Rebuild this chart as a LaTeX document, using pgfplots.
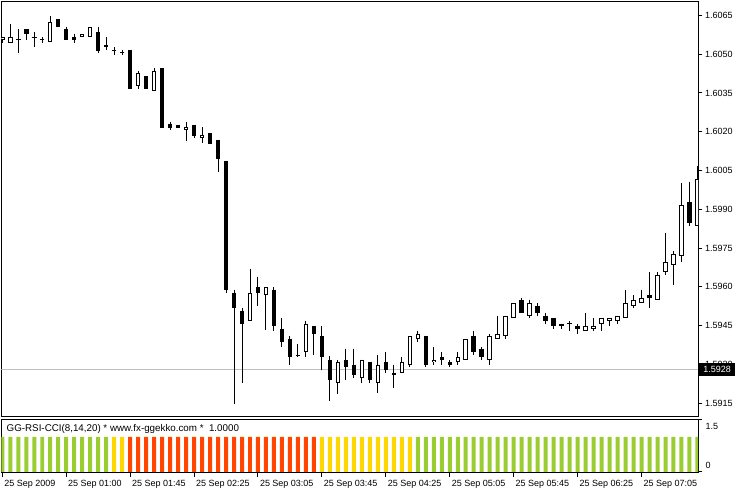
\documentclass[border=0pt]{standalone}
\usepackage{pgfplots}
\pgfplotsset{compat=1.18}
\usepackage{pgfplotstable}
\usepackage{fontspec}
\setmainfont{Liberation Sans}
\definecolor{ygreen}{RGB}{154,205,50}
\definecolor{mtgold}{RGB}{255,215,0}
\definecolor{ored}{RGB}{255,69,0}
\definecolor{lgray}{RGB}{192,192,192}

\pgfplotstableread{
i O H L C
0 1.60555 1.60568 1.60545 1.60566
1 1.60545 1.60617 1.60545 1.60566
6 1.60546 1.60648 1.60546 1.60624
10 1.60566 1.60578 1.60566 1.60578
11 1.60566 1.60604 1.60566 1.60604
17 1.60375 1.60435 1.60365 1.60427
19 1.60358 1.60446 1.60358 1.60435
23 1.60206 1.60237 1.60166 1.60219
25 1.60175 1.60218 1.60156 1.60188
31 1.59466 1.59670 1.59466 1.59576
33 1.59567 1.59599 1.59434 1.59599
38 1.59348 1.59469 1.59327 1.59457
42 1.59228 1.59318 1.59187 1.59309
45 1.59247 1.59318 1.59228 1.59318
47 1.59228 1.59336 1.59189 1.59299
50 1.59267 1.59329 1.59267 1.59309
51 1.59296 1.59408 1.59290 1.59408
52 1.59398 1.59430 1.59385 1.59418
54 1.59309 1.59367 1.59296 1.59318
57 1.59309 1.59348 1.59296 1.59329
58 1.59318 1.59398 1.59318 1.59398
61 1.59318 1.59418 1.59296 1.59411
62 1.59398 1.59488 1.59398 1.59418
63 1.59408 1.59488 1.59398 1.59488
64 1.59480 1.59537 1.59480 1.59537
66 1.59488 1.59550 1.59480 1.59537
73 1.59428 1.59499 1.59428 1.59450
74 1.59437 1.59480 1.59428 1.59450
75 1.59457 1.59480 1.59428 1.59480
76 1.59466 1.59480 1.59450 1.59480
77 1.59469 1.59488 1.59457 1.59488
78 1.59480 1.59589 1.59480 1.59537
79 1.59527 1.59567 1.59518 1.59547
80 1.59537 1.59589 1.59537 1.59557
82 1.59547 1.59657 1.59547 1.59647
83 1.59657 1.59810 1.59647 1.59696
84 1.59685 1.59737 1.59605 1.59727
85 1.59718 1.60000 1.59694 1.59917
87 1.59836 1.60068 1.59836 1.60017
}\whitec

\pgfplotstableread{
i O H L C
3 1.60597 1.60597 1.60555 1.60577
7 1.60635 1.60635 1.60604 1.60604
8 1.60597 1.60604 1.60553 1.60553
9 1.60568 1.60578 1.60545 1.60553
12 1.60585 1.60607 1.60504 1.60514
13 1.60536 1.60566 1.60517 1.60526
16 1.60517 1.60517 1.60365 1.60365
18 1.60416 1.60416 1.60365 1.60365
20 1.60446 1.60446 1.60216 1.60216
21 1.60229 1.60237 1.60205 1.60216
22 1.60227 1.60227 1.60216 1.60216
24 1.60227 1.60227 1.60175 1.60185
26 1.60195 1.60195 1.60154 1.60154
27 1.60169 1.60169 1.60046 1.60095
28 1.60088 1.60088 1.59576 1.59586
29 1.59577 1.59589 1.59147 1.59517
30 1.59508 1.59518 1.59228 1.59455
32 1.59599 1.59639 1.59524 1.59576
34 1.59589 1.59599 1.59428 1.59447
35 1.59438 1.59480 1.59366 1.59385
36 1.59399 1.59411 1.59296 1.59327
39 1.59450 1.59450 1.59335 1.59418
40 1.59411 1.59450 1.59277 1.59327
41 1.59318 1.59331 1.59157 1.59238
43 1.59318 1.59361 1.59238 1.59288
44 1.59299 1.59361 1.59247 1.59257
46 1.59309 1.59309 1.59228 1.59238
48 1.59309 1.59348 1.59267 1.59277
49 1.59267 1.59299 1.59209 1.59257
53 1.59411 1.59411 1.59290 1.59296
55 1.59329 1.59348 1.59296 1.59315
56 1.59309 1.59318 1.59290 1.59296
59 1.59411 1.59430 1.59335 1.59348
60 1.59361 1.59367 1.59315 1.59329
65 1.59547 1.59557 1.59499 1.59499
67 1.59527 1.59537 1.59488 1.59499
68 1.59488 1.59499 1.59457 1.59469
69 1.59480 1.59480 1.59437 1.59450
70 1.59457 1.59457 1.59437 1.59450
72 1.59450 1.59457 1.59419 1.59437
81 1.59567 1.59657 1.59518 1.59557
86 1.59928 1.60007 1.59836 1.59847
}\blackc

\pgfplotstableread{
i O H L C
2 1.60555 1.60597 1.60504 1.60555
4 1.60566 1.60585 1.60527 1.60566
5 1.60555 1.60566 1.60545 1.60555
14 1.60514 1.60527 1.60496 1.60514
15 1.60506 1.60517 1.60496 1.60506
37 1.59336 1.59380 1.59327 1.59336
71 1.59457 1.59466 1.59428 1.59457
}\dojic

\pgfplotsset{
  wick/.style={draw=none, mark=none, forget plot,
    error bars/.cd, y dir=minus, y explicit, error mark=none,
    error bar style={draw=black, line width=1bp}},
  body/.style={draw=none, mark=none, forget plot,
    error bars/.cd, y dir=minus, y explicit, error mark=none,
    error bar style={draw=#1, line width=4.5bp}},
  inner/.style={draw=none, mark=none, forget plot,
    error bars/.cd, y dir=minus, y explicit, error mark=none,
    error bar style={draw=white, line width=2.5bp}},
}

\newcommand{\mtfont}{\fontsize{9bp}{11bp}\selectfont}

\begin{document}
\begin{tikzpicture}
\path (0,0) rectangle (736bp,489bp);
\begin{axis}[
  at={(1.5bp,72.5bp)}, anchor=south west,
  width=697.5bp, height=414.5bp, scale only axis,
  xmin=-0.1, xmax=87.09, ymin=1.59100, ymax=1.60702,
  axis line style={line width=1bp},
  xtick=\empty,
  ytick={1.5915,1.5930,1.5945,1.5960,1.5975,1.5990,1.6005,1.6020,1.6035,1.6050,1.6065},
  ytick pos=right, yticklabel pos=right,
  tick align=outside, major tick length=3.5bp,
  tick style={line width=1bp, black},
  scaled y ticks=false,
  yticklabel style={font=\mtfont, anchor=west,
    /pgf/number format/.cd, fixed, fixed zerofill, precision=4, assume math mode=true},
]
\addplot[lgray, line width=1bp, forget plot] coordinates {(-0.1,1.5928) (87.09,1.5928)};
\coordinate (p28) at (axis cs:87.09,1.5928);
% wicks
\addplot[wick] table[x=i, y=H, y error minus expr=\thisrow{H}-\thisrow{L}] {\whitec};
\addplot[wick] table[x=i, y=H, y error minus expr=\thisrow{H}-\thisrow{L}] {\blackc};
\addplot[wick] table[x=i, y=H, y error minus expr=\thisrow{H}-\thisrow{L}] {\dojic};
% bodies
\addplot[body=black] table[x=i, y=O, y error minus expr=\thisrow{O}-\thisrow{C}] {\blackc};
\addplot[body=black] table[x=i, y=C, y error minus expr=\thisrow{C}-\thisrow{O}] {\whitec};
\addplot[inner] table[x=i, y expr=\thisrow{C}-0.0000387, y error minus expr=\thisrow{C}-\thisrow{O}-0.0000774] {\whitec};
\addplot[only marks, mark=-, mark size=2.25bp, mark options={line width=1bp, black}, forget plot] table[x=i, y=O] {\dojic};
\end{axis}
\node[fill=black, text=white, anchor=west, inner sep=0pt, minimum width=36.4bp, minimum height=12.5bp, font=\mtfont] at ([xshift=0.5bp]p28) {1.5928};

\begin{axis}[
  at={(1.5bp,15.5bp)}, anchor=south west,
  width=697.5bp, height=54bp, scale only axis,
  xmin=-0.1, xmax=87.09, ymin=-0.03, ymax=1.515,
  axis line style={line width=1bp},
  xtick={0,8,16,24,32,40,48,56,64,72,80},
  xticklabels={25 Sep 2009, 25 Sep 01:00, 25 Sep 01:45, 25 Sep 02:25, 25 Sep 03:05, 25 Sep 03:45, 25 Sep 04:25, 25 Sep 05:05, 25 Sep 05:45, 25 Sep 06:25, 25 Sep 07:05},
  xtick pos=bottom, ytick pos=right, yticklabel pos=right,
  tick align=outside, major tick length=4bp,
  tick style={line width=1bp, black},
  xticklabel style={font=\mtfont, anchor=north west, xshift=-1.5bp},
  ytick={0}, yticklabels={0},
  extra y ticks={1.5}, extra y tick labels={1.5},
  extra y tick style={yticklabel style={anchor=north west}},
  yticklabel style={font=\mtfont, anchor=south west},
]
\node[anchor=north west, font=\fontsize{9.8bp}{11bp}\selectfont, inner sep=0pt] at ([xshift=5bp, yshift=-5.5bp]rel axis cs:0,1) {GG-RSI-CCI(8,14,20) * www.fx-ggekko.com *\ \ 1.0000};
\addplot[ybar, bar width=4bp, bar shift=0pt, fill=ygreen, draw=none] coordinates {
(0,1)(1,1)(2,1)(3,1)(4,1)(5,1)(6,1)(7,1)(8,1)(9,1)(10,1)(11,1)(12,1)(13,1)
(52,1)(53,1)(54,1)(55,1)(56,1)(57,1)(58,1)(59,1)(60,1)(61,1)(62,1)(63,1)
(64,1)(65,1)(66,1)(67,1)(68,1)(69,1)(70,1)(71,1)(72,1)(73,1)(74,1)(75,1)
(76,1)(77,1)(78,1)(79,1)(80,1)(81,1)(82,1)(83,1)(84,1)(85,1)(86,1)(87,1)};
\addplot[ybar, bar width=4bp, bar shift=0pt, fill=mtgold, draw=none] coordinates {
(14,1)(15,1)(40,1)(41,1)(42,1)(43,1)(44,1)(45,1)(46,1)(47,1)(48,1)(49,1)(50,1)(51,1)};
\addplot[ybar, bar width=4bp, bar shift=0pt, fill=ored, draw=none] coordinates {
(16,1)(17,1)(18,1)(19,1)(20,1)(21,1)(22,1)(23,1)(24,1)(25,1)(26,1)(27,1)
(28,1)(29,1)(30,1)(31,1)(32,1)(33,1)(34,1)(35,1)(36,1)(37,1)(38,1)(39,1)};
\end{axis}
\end{tikzpicture}
\end{document}
